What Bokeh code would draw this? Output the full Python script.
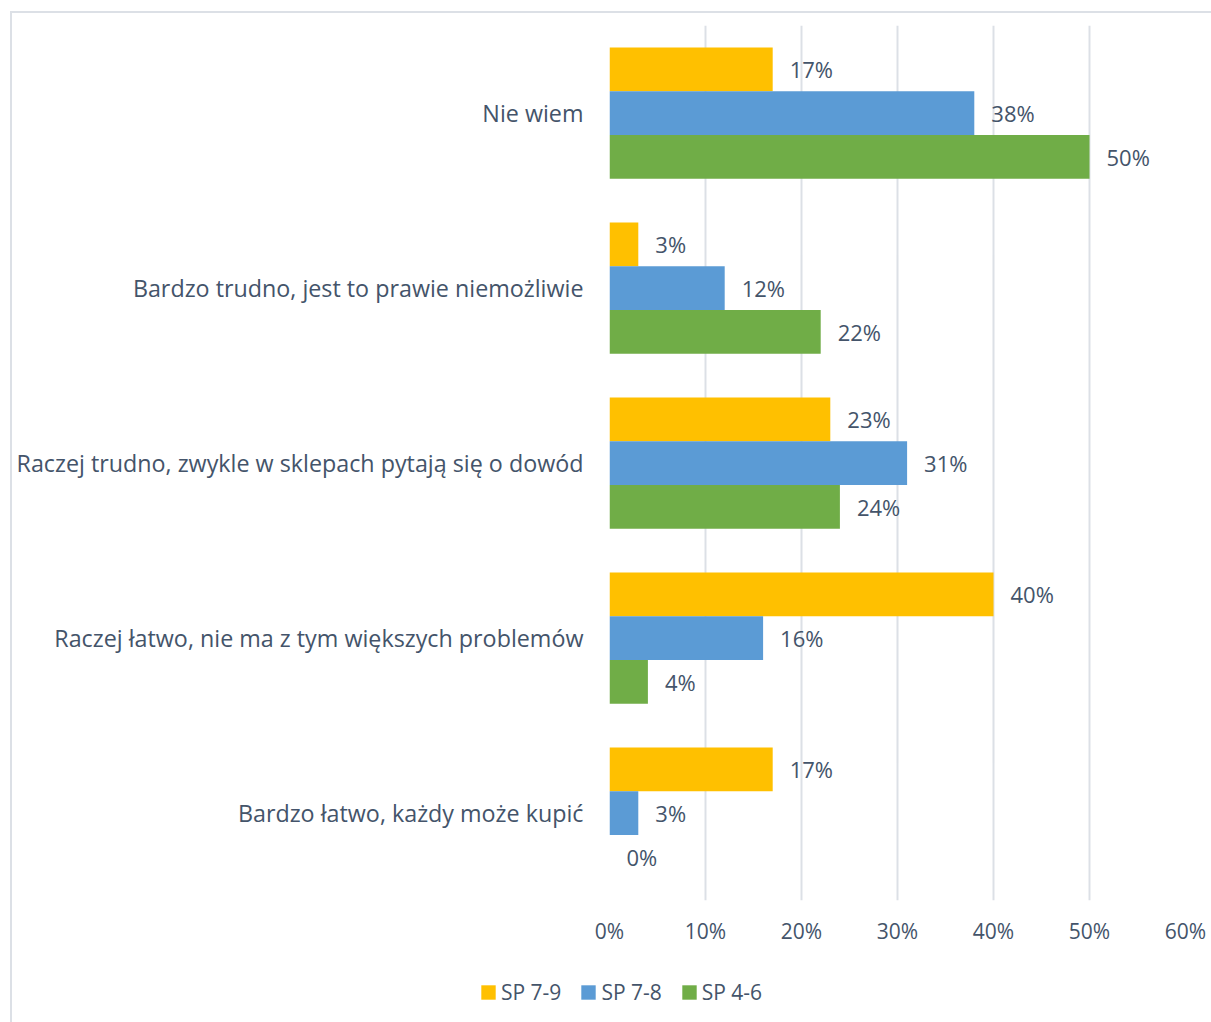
from bokeh.plotting import figure
from bokeh.layouts import column
from bokeh.models import ColumnDataSource, FactorRange, PrintfTickFormatter, Legend, LegendItem, LabelSet, FixedTicker
from bokeh.core.properties import value
from bokeh.transform import dodge
from bokeh.embed import file_html
from bokeh.resources import INLINE

categories = [
    "Nie wiem",
    "Bardzo trudno, jest to prawie niemożliwie",
    "Raczej trudno, zwykle w sklepach pytają się o dowód",
    "Raczej łatwo, nie ma z tym większych problemów",
    "Bardzo łatwo, każdy może kupić",
]
series_names = ["SP 7-9", "SP 7-8", "SP 4-6"]
sp79 = [17, 3, 23, 40, 17]
sp78 = [38, 12, 31, 16, 3]
sp46 = [50, 22, 24, 4, 0]
colors = ["#FFC000", "#5B9BD5", "#70AD47"]
x_ticks = [0, 10, 20, 30, 40, 50, 60]

FONT = "Open Sans"
TXT = "#44546A"
GRID = "#DCE0E6"

p = figure(
    width=1199, height=947,
    y_range=FactorRange(factors=list(reversed(categories)), range_padding=0),
    x_range=(0, 60),
    output_backend="svg", toolbar_location=None,
    min_border_left=597, min_border_right=26, min_border_top=12, min_border_bottom=60,
)
p.outline_line_color = None

src = ColumnDataSource(dict(cat=categories, sp79=sp79, sp78=sp78, sp46=sp46,
                            l79=[f"{v}%" for v in sp79],
                            l78=[f"{v}%" for v in sp78],
                            l46=[f"{v}%" for v in sp46]))

offsets = [0.25, 0.0, -0.25]
cols = ["sp79", "sp78", "sp46"]
labs = ["l79", "l78", "l46"]
for col, lab, off, c in zip(cols, labs, offsets, colors):
    p.hbar(y=dodge("cat", off, range=p.y_range), right=col, left=0, height=0.25,
           source=src, fill_color=c, line_color=None)
    ls = LabelSet(x=col, y=dodge("cat", off, range=p.y_range), text=lab, source=src,
                  x_offset=17, text_align="left", text_baseline="middle",
                  text_font=value(FONT), text_font_size=value("22px"), text_color=value(TXT))
    p.add_layout(ls)

p.xaxis.ticker = FixedTicker(ticks=x_ticks)
p.xaxis.formatter = PrintfTickFormatter(format="%d%%")
for ax in (p.xaxis, p.yaxis):
    ax.axis_line_color = None
    ax.major_tick_line_color = None
    ax.minor_tick_line_color = None
    ax.major_tick_out = 0
    ax.major_tick_in = 0
    ax.major_label_text_font = FONT
    ax.major_label_text_color = TXT
p.xaxis.major_label_text_font_size = "21px"
p.yaxis.major_label_text_font_size = "23.3px"
p.xaxis.major_label_standoff = 16
p.yaxis.major_label_standoff = 26

p.xgrid.grid_line_color = GRID
p.xgrid.grid_line_width = 2
p.xgrid.ticker = FixedTicker(ticks=x_ticks)
p.ygrid.grid_line_color = None

# legend strip below the chart
lf = figure(width=1199, height=62, x_range=(0, 1), y_range=(0, 1),
            x_axis_type=None, y_axis_type=None,
            output_backend="svg", toolbar_location=None,
            min_border=0, min_border_left=0, min_border_right=0,
            min_border_top=0, min_border_bottom=0)
lf.grid.visible = False
lf.outline_line_color = None
for fig in (p, lf):
    try:
        fig.frame_align = False
    except Exception:
        pass

proxies = []
for c in colors:
    proxies.append(lf.hbar(y=[0.5], right=[0], left=[0], height=0,
                           fill_color=c, line_color=None))

legend = Legend(
    items=[LegendItem(label=n, renderers=[r]) for n, r in zip(series_names, proxies)],
    location=(467, 16), orientation="horizontal",
    label_text_font=FONT, label_text_font_size="21px", label_text_color=TXT,
    glyph_width=18, glyph_height=18, label_standoff=4, spacing=18,
    padding=0, margin=0, border_line_color=None, background_fill_alpha=0,
)
lf.add_layout(legend, "center")

layout = column(p, lf, spacing=0)
layout.styles = {"border-left": f"2px solid {GRID}", "border-top": f"2px solid {GRID}",
                 "margin-left": "10px", "margin-top": "11px"}

open("out.html", "w").write(file_html(layout, INLINE))
